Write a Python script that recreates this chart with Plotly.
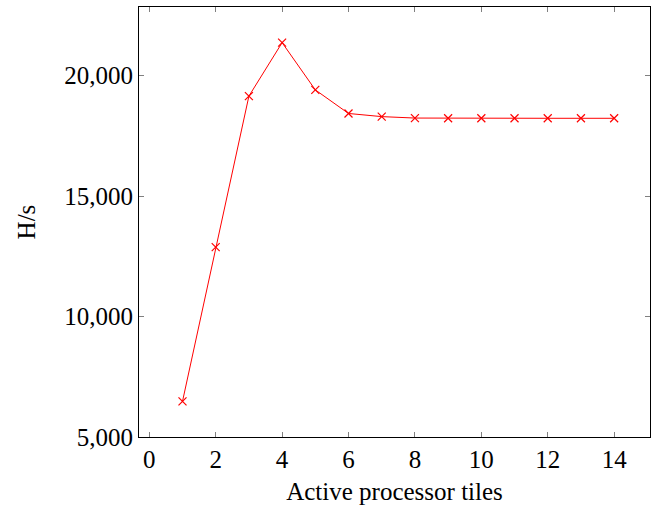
import plotly.graph_objects as go

tiles = [1, 2, 3, 4, 5, 6, 7, 8, 9, 10, 11, 12, 13, 14]
hashrate = [6480, 12880, 19150, 21370, 19410, 18430, 18300, 18240, 18230, 18230, 18230, 18230, 18230, 18230]

font_family = "Liberation Serif, DejaVu Serif, serif"

fig = go.Figure()
fig.add_trace(go.Scatter(
    x=tiles, y=hashrate, mode="lines+markers",
    line=dict(color="red", width=1),
    marker=dict(symbol="x-thin", size=8, color="red", line=dict(color="red", width=1.2)),
    showlegend=False,
))

axis_common = dict(
    showline=True, linecolor="black", linewidth=1, mirror="ticks",
    ticks="inside", ticklen=5, tickcolor="#808080", tickwidth=1,
    showgrid=False, zeroline=False,
    tickfont=dict(family=font_family, size=25, color="black"),
)

fig.update_layout(
    width=651, height=509,
    margin=dict(l=139, r=1, t=7, b=72),
    paper_bgcolor="white", plot_bgcolor="white",
    font=dict(family=font_family, color="black"),
    xaxis=dict(
        range=[-0.31, 15.08], tickmode="linear", tick0=0, dtick=2,
        title=dict(text="Active processor tiles", font=dict(family=font_family, size=25), standoff=10),
        **axis_common,
    ),
    yaxis=dict(
        range=[5000, 22850], tickmode="linear", tick0=5000, dtick=5000,
        tickformat=",d",
        title=dict(text="H/s", font=dict(family=font_family, size=25), standoff=21),
        **axis_common,
    ),
)

fig.write_html("out.html")
